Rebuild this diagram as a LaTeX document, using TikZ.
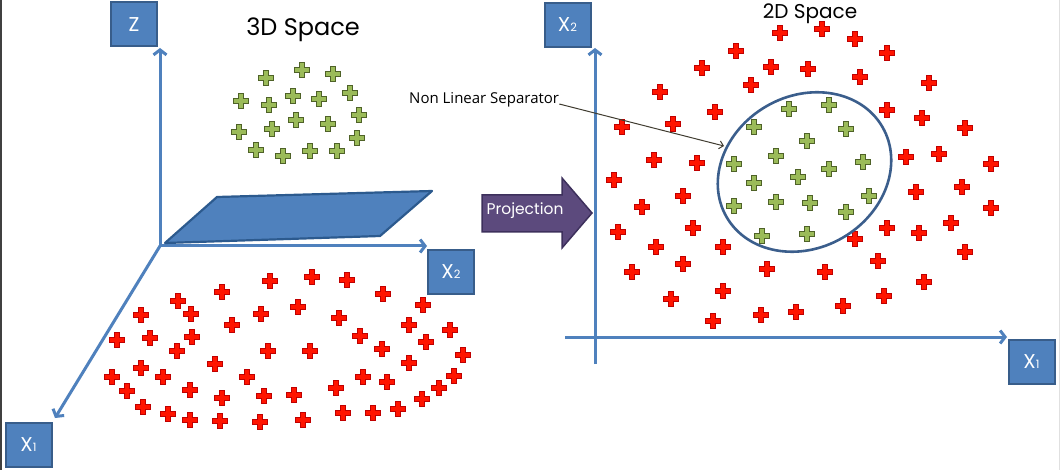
\documentclass[tikz,border=0pt]{standalone}
\usepackage{fontspec}
\setmainfont{Poppins}
\newfontfamily\sepfont{Open Sans}
\usetikzlibrary{arrows.meta}
\definecolor{boxblue}{RGB}{79,129,189}
\definecolor{boxedge}{RGB}{56,93,138}
\definecolor{axisblue}{RGB}{79,129,189}
\definecolor{redfill}{RGB}{255,20,0}
\definecolor{rededge}{RGB}{192,0,0}
\definecolor{greenfill}{RGB}{155,187,89}
\definecolor{greenedge}{RGB}{79,98,40}
\definecolor{projfill}{RGB}{92,74,125}
\definecolor{projedge}{RGB}{61,48,92}
\definecolor{sepblue}{RGB}{59,94,140}
\definecolor{planeedge}{RGB}{44,90,142}
\definecolor{pointer}{RGB}{64,60,48}
\begin{document}
\begin{tikzpicture}[x=1pt,y=-1pt,
  lbl/.style={draw=boxedge, fill=boxblue, line width=2pt, minimum width=46pt,
    minimum height=44pt, inner sep=0pt, text=white},
  axis/.style={draw=axisblue, line width=3pt, -{Straight Barb[length=5pt,width=13pt]}},
  titletext/.style={font=\fontsize{24}{24}\selectfont, anchor=base},
  redplus/.pic={\filldraw[fill=redfill,draw=rededge,line width=0.8pt]
    (-2.7,-7.6) -- (2.7,-7.6) -- (2.7,-2.7) -- (7.6,-2.7) -- (7.6,2.7) -- (2.7,2.7) --
    (2.7,7.6) -- (-2.7,7.6) -- (-2.7,2.7) -- (-7.6,2.7) -- (-7.6,-2.7) -- (-2.7,-2.7) -- cycle;},
  greenplus/.pic={\filldraw[fill=greenfill,draw=greenedge,line width=1pt]
    (-2.5,-7.2) -- (2.5,-7.2) -- (2.5,-2.5) -- (7.2,-2.5) -- (7.2,2.5) -- (2.5,2.5) --
    (2.5,7.2) -- (-2.5,7.2) -- (-2.5,2.5) -- (-7.2,2.5) -- (-7.2,-2.5) -- (-2.5,-2.5) -- cycle;}
]
\useasboundingbox (0,0) rectangle (1062,470);
\fill[white] (0,0) rectangle (1062,470);
\draw[black!75,line width=1.5pt] (0.75,0) -- (0.75,470);
\draw[black!12,line width=1pt] (1059.5,0) -- (1059.5,470);

% ---------- 3D space ----------
\node[titletext] (t3) at (303,36) {3D Space};
\coordinate (O3) at (160,246);
\coordinate (zt) at (160,48);
\coordinate (x2t) at (427,246);
\coordinate (x1t) at (55,418);
\draw[axis] (O3) -- (zt);
\draw[axis] (O3) -- (x2t);
\draw[axis] (O3) -- (x1t);
\filldraw[fill=boxblue,draw=planeedge,line width=2.2pt,line join=round]
  (165,243) -- (217,197) -- (432,191) -- (380,236) -- cycle;
\node[lbl, font=\fontsize{20}{20}\selectfont] (zl) at (134,24.5) {Z};
\node[lbl, font=\fontsize{20}{20}\selectfont] (x2l) at (451,272) {X{\fontsize{11.5}{11.5}\selectfont 2}};
\node[lbl, font=\fontsize{20}{20}\selectfont] (x1l) at (28.5,444.5) {X{\fontsize{11.5}{11.5}\selectfont 1}};

\foreach \x/\y in {266/78, 302/70, 333/74, 241/101, 269/105, 293/96, 319/99, 350/93, 359/115,
  239/132, 272/129, 296/120, 328/124, 357/138, 256/150, 283/156, 310/151, 337/151}
  \pic at (\x,\y) {greenplus};

\foreach \x/\y in {270/281, 312/277, 347/280, 222/292, 383/294, 178/301, 423/305, 141/315,
  191/314, 261/314, 298/307, 339/318, 232/325, 409/325, 450/330, 117/340, 150/338, 192/337,
  360/336, 426/342, 177/351, 268/351, 310/351, 382/349, 463/355, 215/364, 409/363, 112/377,
  141/368, 163/377, 247/377, 363/377, 387/382, 454/376, 127/391, 190/390, 336/388, 222/398,
  264/396, 294/395, 439/388, 422/399, 143/407, 168/414, 190/420, 220/421, 260/422, 303/420,
  343/413, 373/413, 398/409}
  \pic at (\x,\y) {redplus};

% ---------- projection arrow ----------
\filldraw[fill=projfill,draw=projedge,line width=1.5pt,line join=miter]
  (482,195) -- (562,195) -- (562,178) -- (592,213) -- (562,248) -- (562,232) -- (482,232) -- cycle;
\node[anchor=base,text=white,font=\fontsize{15.5}{15.5}\selectfont] (proj) at (525,215) {Projection};

% ---------- 2D space ----------
\node[titletext, font=\fontsize{20}{20}\selectfont] (t2) at (810,18.5) {2D Space};
\coordinate (vb) at (595,364);
\coordinate (vt) at (595,48);
\coordinate (hb) at (565,337);
\coordinate (ht) at (1007,337);
\draw[axis] (vb) -- (vt);
\draw[axis] (hb) -- (ht);
\node[lbl, font=\fontsize{20}{20}\selectfont] (y2l) at (567.5,25) {X{\fontsize{11.5}{11.5}\selectfont 2}};
\node[lbl, font=\fontsize{20}{20}\selectfont] (y1l) at (1031.5,362) {X{\fontsize{11.5}{11.5}\selectfont 1}};

\foreach \x/\y in {780/33, 822/29, 855/39, 736/51, 887/53, 702/68, 771/67, 808/69, 860/77,
  751/85, 929/83, 660/92, 715/112, 887/110, 922/118, 965/128, 673/124, 622/127,
  654/160, 697/163, 906/157, 939/154, 991/164, 614/180, 683/196, 916/192, 962/187, 642/207,
  991/208, 618/232, 693/228, 951/223, 887/228, 919/233, 855/239, 656/247, 723/247, 965/252,
  878/261, 683/264, 632/272, 767/269, 825/272, 671/299, 723/291, 924/282, 884/296, 843/306,
  796/312, 761/315, 713/321}
  \pic at (\x,\y) {redplus};

\foreach \x/\y in {789/109, 829/105, 754/127, 846/129, 807/141, 776/156, 863/162, 734/164,
  829/169, 798/177, 754/183, 869/196, 734/206, 776/202, 810/203, 846/212, 762/236, 807/234}
  \pic at (\x,\y) {greenplus};

\draw[draw=sepblue,line width=2.6pt] (804.5,172) ellipse [x radius=90, y radius=76, rotate=30];
\coordinate (sepTip) at (724,146);
\node[anchor=base west,inner sep=0pt,font=\sepfont\fontsize{15}{15}\selectfont] (nls) at (409,104) {Non Linear Separator};
\draw[draw=pointer,line width=1pt,-{Straight Barb[length=4pt,width=8pt]}] (nls.base east) -- (sepTip);
\end{tikzpicture}
\end{document}
